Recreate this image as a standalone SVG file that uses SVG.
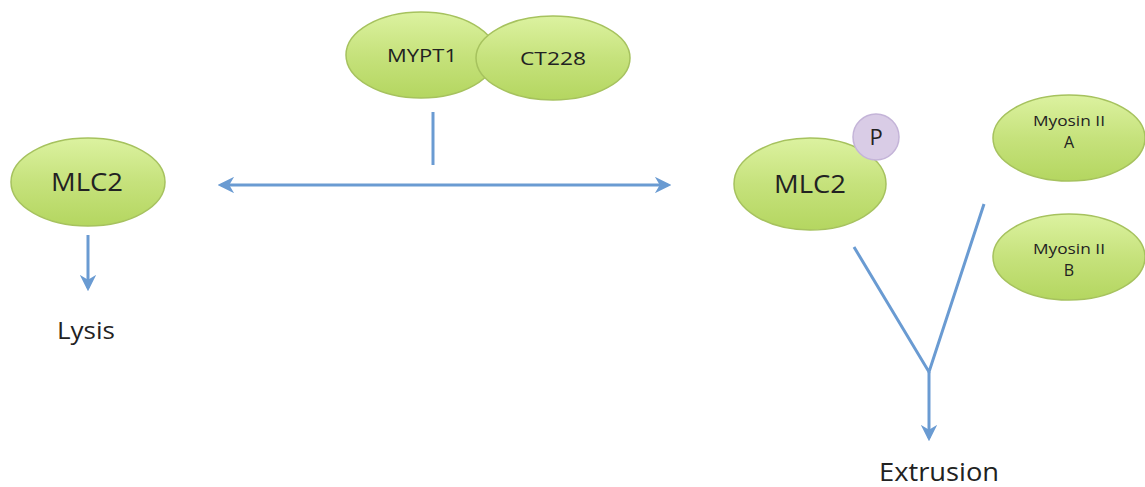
<svg xmlns="http://www.w3.org/2000/svg" width="1145" height="487" viewBox="0 0 1145 487">
<style>
.node{fill:url(#g);stroke:#a6c25e;stroke-width:1.5}
.t{font-family:"Open Sans","Liberation Sans",sans-serif;fill:#222;text-anchor:middle}
.c{stroke:#6a9bd2;stroke-width:3;fill:none}
</style>
<defs>
<linearGradient id="g" x1="0" y1="0" x2="0" y2="1">
<stop offset="0" stop-color="#dcf2a0"/>
<stop offset="0.5" stop-color="#c6e27c"/>
<stop offset="1" stop-color="#b4d660"/>
</linearGradient>
<marker id="a" viewBox="0 0 10 10" refX="8" refY="5" markerWidth="5.5" markerHeight="5.5" orient="auto-start-reverse" markerUnits="strokeWidth">
<path d="M0,0 L10,5 L0,10 L3,5 Z" fill="#6a9bd2"/>
</marker>
</defs>
<rect width="1145" height="487" fill="#fff"/>
<g id="mypt1"><ellipse class="node" cx="421" cy="55" rx="75" ry="43"/><text class="t" x="422" y="62" font-size="19" textLength="70" lengthAdjust="spacingAndGlyphs">MYPT1</text></g>
<g id="ct228"><ellipse class="node" cx="553" cy="58" rx="77" ry="42"/><text class="t" x="553" y="65" font-size="19" textLength="66" lengthAdjust="spacingAndGlyphs">CT228</text></g>
<g id="mlc2-left"><ellipse class="node" cx="88" cy="182" rx="77" ry="44"/><text class="t" x="87" y="191" font-size="25" textLength="72" lengthAdjust="spacingAndGlyphs">MLC2</text></g>
<g id="mlc2-right"><ellipse class="node" cx="810" cy="184" rx="76" ry="46"/><text class="t" x="810" y="193" font-size="25" textLength="72" lengthAdjust="spacingAndGlyphs">MLC2</text></g>
<g id="p"><circle cx="876" cy="137" r="23" fill="#d9cce6" stroke="#c4b4d8" stroke-width="1.5"/><text class="t" x="876" y="145" font-size="22">P</text></g>
<g id="myosin-a"><ellipse class="node" cx="1069" cy="138" rx="76" ry="43"/><text class="t" x="1069" y="126" font-size="14" textLength="72" lengthAdjust="spacingAndGlyphs">Myosin II</text><text class="t" x="1069" y="148" font-size="16">A</text></g>
<g id="myosin-b"><ellipse class="node" cx="1069" cy="257" rx="76" ry="43"/><text class="t" x="1069" y="254" font-size="14" textLength="72" lengthAdjust="spacingAndGlyphs">Myosin II</text><text class="t" x="1069" y="276" font-size="16">B</text></g>
<g id="lysis"><text class="t" x="86" y="339" font-size="24" textLength="58" lengthAdjust="spacingAndGlyphs">Lysis</text></g>
<g id="extrusion"><text class="t" x="939" y="481" font-size="26" textLength="120" lengthAdjust="spacingAndGlyphs">Extrusion</text></g>
<g id="connectors">
<line class="c" x1="433" y1="112" x2="433" y2="165"/>
<line class="c" x1="221" y1="185" x2="668" y2="185" marker-start="url(#a)" marker-end="url(#a)"/>
<line class="c" x1="88" y1="235" x2="88" y2="288" marker-end="url(#a)"/>
<polyline class="c" points="854,247 929,372 984,204"/>
<line class="c" x1="929" y1="372" x2="929" y2="438" marker-end="url(#a)"/>
</g>
</svg>
